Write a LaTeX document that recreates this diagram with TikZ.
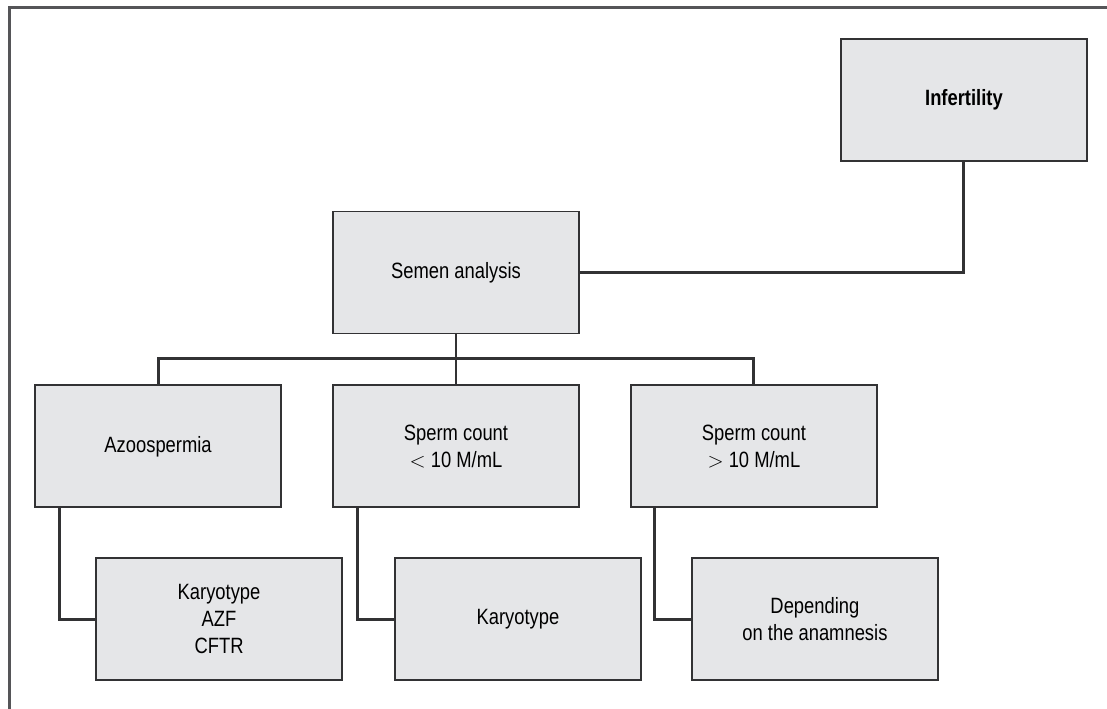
\documentclass[tikz,border=0pt]{standalone}
\usepackage{fontspec}
\setmainfont{Liberation Sans}[FakeStretch=0.83]
\usepackage{xcolor}
\usepackage{tikz}
\usetikzlibrary{positioning}

\definecolor{boxfill}{RGB}{229,230,232}
\definecolor{boxline}{RGB}{50,50,52}
\definecolor{framegray}{RGB}{85,85,88}

\begin{document}
\begin{tikzpicture}[
  font=\fontsize{12.6}{15.4}\selectfont,
  node distance=1cm,
  box/.style={rectangle, draw=boxline, fill=boxfill, line width=1.1pt, align=center,
              minimum width=4.92cm, minimum height=2.44cm, inner sep=0pt},
  link/.style={draw=boxline, line width=1.7pt}
]
\useasboundingbox (0,0) rectangle (22.14,-14.18);
\draw[framegray, line width=1.2pt] (0.19,-14.18) |- (22.14,-0.15);

\node[box] (semen) at (9.12,-5.45) {Semen analysis};
\node[box, above right=0.98cm and 5.2cm of semen] (infert) {\textbf{Infertility}};
\node[box, below=of semen] (low) {Sperm count\\$<$ 10 M/mL};
\node[box, left=1cm of low] (azoo) {Azoospermia};
\node[box, right=1cm of low] (high) {Sperm count\\$>$ 10 M/mL};
\node[box, below=0.98cm of azoo.south west, anchor=north west, xshift=1.22cm] (karazf) {Karyotype\\AZF\\CFTR};
\node[box, below=0.98cm of low.south west, anchor=north west, xshift=1.24cm] (kar) {Karyotype};
\node[box, below=0.98cm of high.south west, anchor=north west, xshift=1.22cm] (anam) {Depending\\on the anamnesis};

\draw[link] (infert.south) |- (semen.east);
\draw[link] (semen.south) -- (low.north);
\draw[link] (azoo.north) -- ++(0,0.52) -| (high.north);
\draw[link] ([xshift=0.5cm]azoo.south west) |- (karazf.west);
\draw[link] ([xshift=0.5cm]low.south west) |- (kar.west);
\draw[link] ([xshift=0.5cm]high.south west) |- (anam.west);
\end{tikzpicture}
\end{document}
